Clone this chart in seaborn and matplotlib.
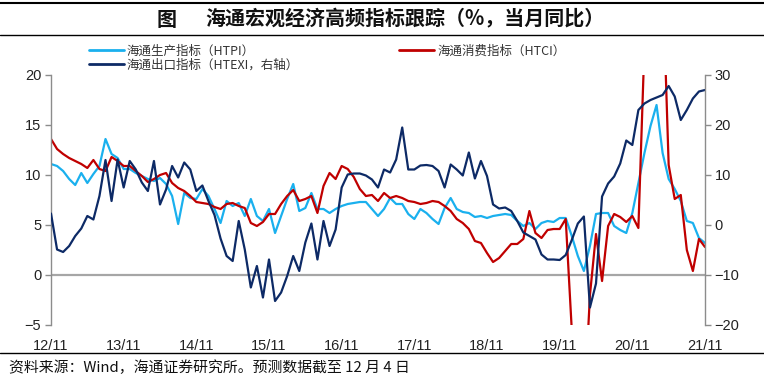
import numpy as np
import pandas as pd
import matplotlib
matplotlib.use("Agg")
import matplotlib.pyplot as plt
import seaborn as sns
from matplotlib.lines import Line2D

# monthly values, 2012/11 .. 2021/11
htpi = [11.1, 10.9, 10.4, 9.6, 9.0, 10.2, 9.2, 10.1, 10.9, 13.6,
        12.1, 11.7, 10.6, 10.6, 10.2, 9.9, 9.6, 9.4, 9.7, 9.1,
        7.9, 5.1, 8.2, 7.7, 7.6, 8.6, 7.9, 6.6, 5.2, 7.4,
        6.9, 7.2, 5.9, 7.6, 5.9, 5.4, 6.6, 4.2, 5.9, 7.6,
        9.1, 6.4, 6.7, 8.2, 6.6, 6.6, 6.2, 6.6, 6.9, 7.1,
        7.2, 7.3, 7.3, 6.6, 5.9, 6.6, 7.7, 7.1, 7.1, 6.1,
        5.6, 6.6, 6.2, 5.6, 5.1, 6.7, 7.7, 6.6, 6.3, 6.2,
        5.8, 5.9, 5.7, 5.9, 6.0, 6.1, 6.0, 5.4, 4.9, 5.2,
        4.6, 5.2, 5.4, 5.3, 5.7, 5.7, 3.9, 1.9, 0.4, 2.9,
        6.1, 6.2, 6.2, 4.9, 4.5, 4.2, 6.2, 9.2, 12.2, 14.9,
        17.0, 12.2, 9.6, 8.6, 7.4, 5.4, 5.2, 3.7, 3.2]

htci = [13.6, 12.6, 12.1, 11.7, 11.4, 11.1, 10.7, 11.5, 10.6, 10.4,
        11.8, 11.4, 10.9, 10.9, 10.4, 9.9, 9.3, 9.6, 10.0, 10.2,
        9.2, 8.7, 8.4, 7.9, 7.3, 7.2, 7.1, 6.8, 6.6, 7.1,
        7.2, 6.9, 6.7, 5.2, 4.9, 5.3, 6.1, 6.1, 7.1, 7.9,
        8.5, 7.4, 7.6, 7.9, 6.2, 8.9, 10.2, 9.6, 10.9, 10.6,
        9.8, 8.6, 7.9, 8.0, 7.4, 8.2, 7.7, 7.9, 7.7, 7.4,
        7.3, 7.1, 7.2, 7.4, 7.3, 6.9, 6.4, 5.6, 5.2, 4.6,
        3.4, 3.2, 2.2, 1.3, 1.7, 2.4, 3.1, 3.1, 3.6, 6.4,
        4.2, 3.7, 4.5, 4.6, 4.6, 5.6, -5.5, -20.0, -14.0, -2.0,
        4.1, -0.6, 4.9, 6.1, 5.8, 5.3, 5.9, 4.7, 23.0, 40.0,
        35.0, 30.0, 11.0, 7.6, 8.0, 2.5, 0.4, 3.6, 2.8]

htexi = [2.3, -4.9, -5.4, -4.2, -2.2, -0.7, 1.8, 1.1, 5.8, 13.0,
         4.8, 13.1, 7.5, 12.8, 11.1, 8.5, 6.8, 12.8, 4.1, 7.1,
         11.8, 9.5, 12.5, 11.1, 6.8, 7.9, 4.8, 2.0, -2.7, -6.2,
         -7.2, 0.8, -4.9, -12.5, -8.2, -14.5, -6.9, -15.2, -13.5, -10.2,
         -6.2, -9.2, -3.5, 0.3, -6.9, 0.8, -4.2, -0.9, 7.5, 10.1,
         10.3, 10.3, 9.9, 9.1, 7.5, 11.1, 10.5, 13.1, 19.5, 11.1,
         11.1, 11.9, 12.0, 11.8, 10.8, 7.5, 12.1, 11.1, 9.9, 14.5,
         9.3, 12.8, 9.8, 4.1, 3.3, 3.5, 2.8, 0.8, -1.5, -2.2,
         -2.9, -5.9, -6.9, -6.9, -7.0, -6.0, -3.0, 0.3, 1.7, -16.5,
         -11.7, 5.7, 8.3, 9.7, 12.3, 16.9, 16.0, 23.0, 24.3, 25.0,
         25.5, 26.0, 27.8, 25.7, 21.0, 23.0, 25.3, 26.7, 27.0]

tick_labels = ["12/11", "13/11", "14/11", "15/11", "16/11",
               "17/11", "18/11", "19/11", "20/11", "21/11"]

names = ["海通生产指标（HTPI）", "海通消费指标（HTCI）", "海通出口指标（HTEXI，右轴）"]
colors = ["#1AB0EE", "#C00000", "#0D2A66"]

df = pd.DataFrame({"idx": np.arange(len(htpi)),
                   "htpi": htpi, "htci": htci, "htexi": htexi})

sns.set_theme(style="white")
plt.rcParams['font.family'] = ['Noto Sans CJK SC', 'DejaVu Sans']

fig = plt.figure(figsize=(7.64, 3.82), dpi=100)
ax = fig.add_axes([51 / 764, 1 - 325 / 382, 654 / 764, 250 / 382])
ax2 = ax.twinx()

ax.axhline(0, color="#A6A6A6", lw=1.6, zorder=0)
sns.lineplot(data=df, x="idx", y="htpi", ax=ax, color=colors[0], lw=1.6, legend=False)
sns.lineplot(data=df, x="idx", y="htci", ax=ax, color=colors[1], lw=1.6, legend=False)
sns.lineplot(data=df, x="idx", y="htexi", ax=ax2, color=colors[2], lw=1.6, legend=False)

ax.set_xlim(0, len(htpi) - 1)
ax.set_ylim(-5, 20)
ax2.set_ylim(-20, 30)
ax.set_yticks(range(-5, 21, 5))
ax2.set_yticks(range(-20, 31, 10))
ax.set_xticks(range(0, len(htpi), 12))
ax.set_xticklabels(tick_labels)
for a in (ax, ax2):
    a.set_xlabel("")
    a.set_ylabel("")
    a.spines["top"].set_visible(False)
    a.spines["bottom"].set_visible(False)
    for s in ("left", "right"):
        a.spines[s].set_color("#8C8C8C")
        a.spines[s].set_linewidth(1.0)
    a.tick_params(axis="y", length=4, width=1, color="#8C8C8C", pad=3,
                  labelsize=10.5, labelcolor="#222222",
                  labelfontfamily="Liberation Sans")
ax2.spines["left"].set_visible(False)
ax.spines["right"].set_visible(False)
ax.tick_params(axis="y", left=True, direction="out")
ax2.tick_params(axis="y", right=True, direction="out")
ax.tick_params(axis="x", length=0, pad=10, labelsize=10.5, labelcolor="#222222",
               labelfontfamily="Liberation Sans")

handles = [Line2D([], [], color=c, lw=2) for c in colors]
fig.legend([handles[0], handles[2], handles[1]], [names[0], names[2], names[1]],
           ncol=2, loc="upper left", bbox_to_anchor=(80 / 764, 1 - 36 / 382),
           frameon=False, fontsize=9, handlelength=2.8, handletextpad=0.25,
           columnspacing=8.0, labelspacing=0.05, borderpad=0.2,
           labelcolor="#333333")

fig.text(167 / 764, 1 - 19 / 382, "图", ha="center", va="center",
         fontsize=14.4, fontweight="bold", color="#111111")
fig.text(205 / 764, 1 - 19 / 382, "海通宏观经济高频指标跟踪（%，当月同比）",
         ha="left", va="center", fontsize=14.4, fontweight="bold", color="#111111")
fig.text(9 / 764, 1 - 368 / 382, "资料来源：Wind，海通证券研究所。预测数据截至 12 月 4 日",
         ha="left", va="center", fontsize=10.7, color="#111111")

for yy, w in ((3, 1.5), (35, 1.0), (353, 1.0)):
    fig.add_artist(Line2D([0, 1], [1 - yy / 382] * 2, color="black", lw=w,
                          transform=fig.transFigure))

fig.savefig("out.png", dpi=100)
